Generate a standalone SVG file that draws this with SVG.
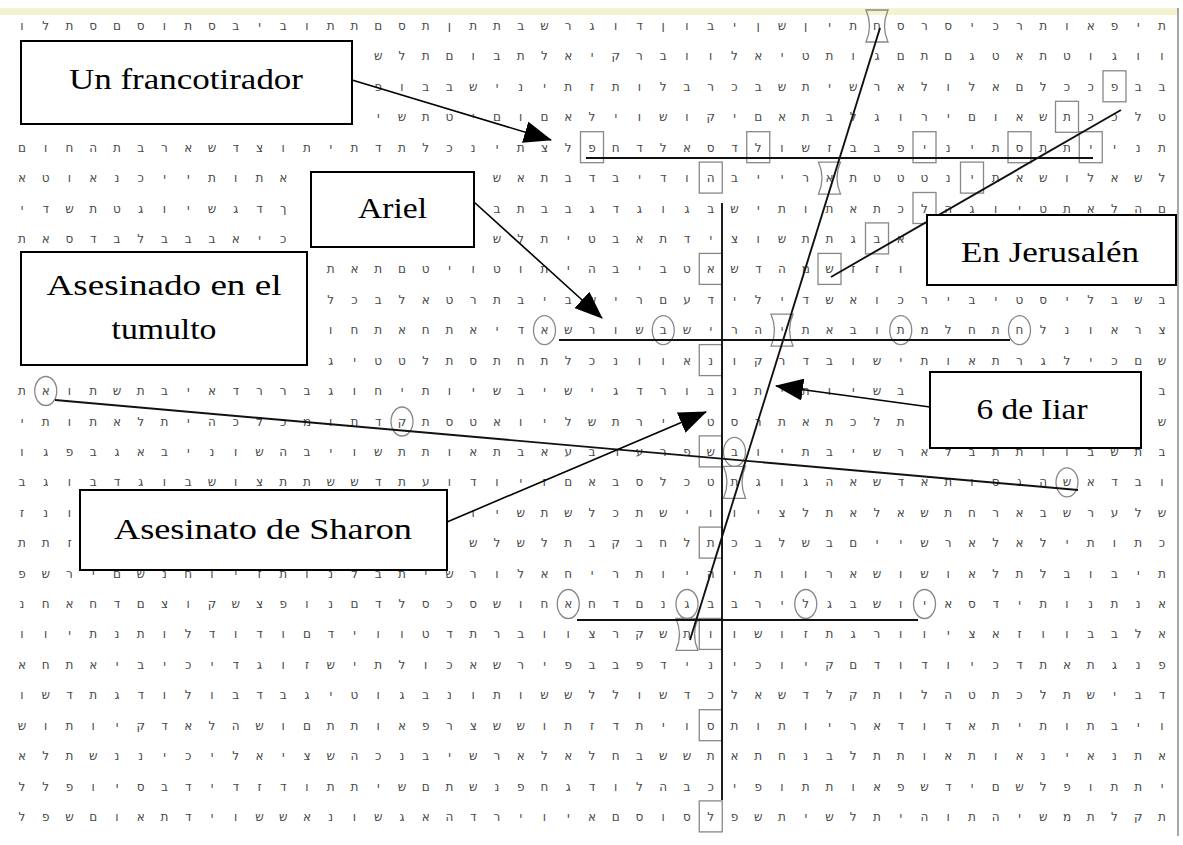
<svg xmlns="http://www.w3.org/2000/svg" xmlns:xlink="http://www.w3.org/1999/xlink" width="1183" height="845" viewBox="0 0 1183 845">
<style>
.m{font-family:"DejaVu Sans",sans-serif;font-size:12px;fill:#484848;text-anchor:middle;unicode-bidi:bidi-override;direction:ltr}
.lb{fill:#fff;stroke:#000;stroke-width:2}
.lt{font-family:"Liberation Serif",serif;font-size:30px;fill:#000;text-anchor:middle}
.sl{stroke:#111;stroke-width:1.9;fill:none}
.cn{stroke:#000;stroke-width:1.6;fill:none;marker-end:url(#ah)}
.mk{fill:none;stroke:#888;stroke-width:1.3}
</style>
<defs>
<marker id="ah" markerUnits="userSpaceOnUse" markerWidth="28" markerHeight="22" viewBox="0 0 28 22" refX="27" refY="11" orient="auto"><path d="M0,0 L28,11 L0,22 Z" fill="#000"/></marker>
<rect id="bx" x="-11.5" y="-16" width="23" height="31"/>
<ellipse id="cc" rx="11" ry="14.5"/>
<path id="hg" d="M-11,-16 H11 Q4,0 11,16 H-11 Q-4,0 -11,-16 Z"/>
</defs>
<rect width="1183" height="845" fill="#fff"/>
<rect x="0" y="8" width="1178" height="7" fill="#f5f2cf"/>
<line x1="1178" y1="8" x2="1178" y2="836" stroke="#8a8a8a" stroke-width="1.5"/>
<g id="matrix" class="m">
<text y="30" x="1162 1138.25 1114.5 1090.75 1067 1043.25 1019.5 995.75 972 948.25 924.5 900.75 877 853.25 829.5 805.75 782 758.25 734.5 710.75 687 663.25 639.5 615.75 592 568.25 544.5 520.75 497 473.25 449.5 425.75 402 378.25 354.5 330.75 307 283.25 259.5 235.75 212 188.25 164.5 140.75 117 93.25 69.5 45.75 22">תיפאותרכיסרסחתיןשןיבוןדוגרשבתתןתסםתתוביבסתוסםסתלו</text>
<text y="60.4" x="1162 1138.25 1114.5 1090.75 1067 1043.25 1019.5 995.75 972 948.25 924.5 900.75 877 853.25 829.5 805.75 782 758.25 734.5 710.75 687 663.25 639.5 615.75 592 568.25 544.5 520.75 497 473.25 449.5 425.75 402 378.25">ווגוטתאטגםתםגותטיאלווברקיאלתבוםתלש</text>
<text y="90.8" x="1162 1138.25 1114.5 1090.75 1067 1043.25 1019.5 995.75 972 948.25 924.5 900.75 877 853.25 829.5 805.75 782 758.25 734.5 710.75 687 663.25 639.5 615.75 592 568.25 544.5 520.75 497 473.25 449.5 425.75 402 378.25">בבפככלםאלולארשיתשבכרבלותזתינישבבופ</text>
<text y="121.3" x="1162 1138.25 1114.5 1090.75 1067 1043.25 1019.5 995.75 972 948.25 924.5 900.75 877 853.25 829.5 805.75 782 758.25 734.5 710.75 687 663.25 639.5 615.75 592 568.25 544.5 520.75 497 473.25 449.5 425.75 402 378.25">טלככתשאוםירוגלבתאםיקושוילאםוםיטתשי</text>
<text y="151.7" x="1162 1138.25 1114.5 1090.75 1067 1043.25 1019.5 995.75 972 948.25 924.5 900.75 877 853.25 829.5 805.75 782 758.25 734.5 710.75 687 663.25 639.5 615.75 592 568.25 544.5 520.75 497 473.25 449.5 425.75 402 378.25 354.5 330.75 307 283.25 259.5 235.75 212 188.25 164.5 140.75 117 93.25 69.5 45.75 22">תנייתתסתיניפבבזשולדסאלדחפלצתינכלתדתיתוצדשארבתהחום</text>
<text y="182.1" x="283.25 259.5 235.75 212 188.25 164.5 140.75 117 93.25 69.5 45.75 22">אתותייכנאוטא</text>
<text y="182.1" x="1162 1138.25 1114.5 1090.75 1067 1043.25 1019.5 995.75 972 948.25 924.5 900.75 877 853.25 829.5 805.75 782 758.25 734.5 710.75 687 663.25 639.5 615.75 592 568.25 544.5 520.75 497">לשאלושאתינטטטתארייבהודיבדבתאש</text>
<text y="212.5" x="283.25 259.5 235.75 212 188.25 164.5 140.75 117 93.25 69.5 45.75 22">ךדגשיוגטתשדי</text>
<text y="212.5" x="1162 1138.25 1114.5 1090.75 1067 1043.25 1019.5 995.75 972 948.25 924.5 900.75 877 853.25 829.5 805.75 782 758.25 734.5 710.75 687 663.25 639.5 615.75 592 568.25 544.5 520.75 497">םהלאתטיוגהלכתאתותישבגוגדגבבתב</text>
<text y="242.9" x="283.25 259.5 235.75 212 188.25 164.5 140.75 117 93.25 69.5 45.75 22">כיאבבבלבדסאת</text>
<text y="242.9" x="900.75 877 853.25 829.5 805.75 782 758.25 734.5 710.75 687 663.25 639.5 615.75 592 568.25 544.5 520.75 497">אבגתתשוצידתאבטיתלש</text>
<text y="273.4" x="900.75 877 853.25 829.5 805.75 782 758.25 734.5 710.75 687 663.25 639.5 615.75 592 568.25 544.5 520.75 497 473.25 449.5 425.75 402 378.25 354.5 330.75">וזזשמהדשאטביבהיתוטויטםתאת</text>
<text y="303.8" x="1162 1138.25 1114.5 1090.75 1067 1043.25 1019.5 995.75 972 948.25 924.5 900.75 877 853.25 829.5 805.75 782 758.25 734.5 710.75 687 663.25 639.5 615.75 592 568.25 544.5 520.75 497 473.25 449.5 425.75 402 378.25 354.5 330.75">בשבליסטיבירכואשדילידעםרישביבתרטאלבכל</text>
<text y="334.2" x="1162 1138.25 1114.5 1090.75 1067 1043.25 1019.5 995.75 972 948.25 924.5 900.75 877 853.25 829.5 805.75 782 758.25 734.5 710.75 687 663.25 639.5 615.75 592 568.25 544.5 520.75 497 473.25 449.5 425.75 402 378.25 354.5 330.75">צראונלחתחלמתובאתיהרישבשורשאדיאתחאתחו</text>
<text y="364.6" x="1162 1138.25 1114.5 1090.75 1067 1043.25 1019.5 995.75 972 948.25 924.5 900.75 877 853.25 829.5 805.75 782 758.25 734.5 710.75 687 663.25 639.5 615.75 592 568.25 544.5 520.75 497 473.25 449.5 425.75 402 378.25 354.5 330.75">שםכילגרתאותישובדרקונאוונכלתחתסתלטטיג</text>
<text y="395" x="900.75 877 853.25 829.5 805.75 782 758.25 734.5 710.75 687 663.25 639.5 615.75 592 568.25 544.5 520.75 497 473.25 449.5 425.75 402 378.25 354.5 330.75 307 283.25 259.5 235.75 212 188.25 164.5 140.75 117 93.25 69.5 45.75 22">בשיותיתנבורדגישיבשיותיחוגבררדאיבתשתואת</text>
<text y="395" x="1162">ב</text>
<text y="425.5" x="900.75 877 853.25 829.5 805.75 782 758.25 734.5 710.75 687 663.25 639.5 615.75 592 568.25 544.5 520.75 497 473.25 449.5 425.75 402 378.25 354.5 330.75 307 283.25 259.5 235.75 212 188.25 164.5 140.75 117 93.25 69.5 45.75 22">תלכתאתרסטלירתשליואטסתקדתומכלכהיתלאתותי</text>
<text y="425.5" x="1162">ש</text>
<text y="455.9" x="1162 1138.25 1114.5 1090.75 1067 1043.25 1019.5 995.75 972 948.25 924.5 900.75 877 853.25 829.5 805.75 782 758.25 734.5 710.75 687 663.25 639.5 615.75 592 568.25 544.5 520.75 497 473.25 449.5 425.75 402 378.25 354.5 330.75 307 283.25 259.5 235.75 212 188.25 164.5 140.75 117 93.25 69.5 45.75 22">בתשבוותתבלארשיבתיובשפרערבעאבתאותתשויבהשוניבאגבפגו</text>
<text y="486.3" x="1162 1138.25 1114.5 1090.75 1067 1043.25 1019.5 995.75 972 948.25 924.5 900.75 877 853.25 829.5 805.75 782 758.25 734.5 710.75 687 663.25 639.5 615.75 592 568.25 544.5 520.75 497 473.25 449.5 425.75 402 378.25 354.5 330.75 307 283.25 259.5 235.75 212 188.25 164.5 140.75 117 93.25 69.5 45.75 22">ובדאשהגסותאדשאהגוגתטכלסבאםזיודועתדששתתצושבוגדבוגב</text>
<text y="516.7" x="69.5 45.75 22">ונז</text>
<text y="516.7" x="1162 1138.25 1114.5 1090.75 1067 1043.25 1019.5 995.75 972 948.25 924.5 900.75 877 853.25 829.5 805.75 782 758.25 734.5 710.75 687 663.25 639.5 615.75 592 568.25 544.5 520.75 497 473.25">שלערשבארחתשאלאתלציווישתכלשתשיו</text>
<text y="547.1" x="69.5 45.75 22">זתת</text>
<text y="547.1" x="1162 1138.25 1114.5 1090.75 1067 1043.25 1019.5 995.75 972 948.25 924.5 900.75 877 853.25 829.5 805.75 782 758.25 734.5 710.75 687 663.25 639.5 615.75 592 568.25 544.5 520.75 497 473.25">כתותילאלארשייםבשלבכתלחבקבתלשלש</text>
<text y="577.6" x="1162 1138.25 1114.5 1090.75 1067 1043.25 1019.5 995.75 972 948.25 924.5 900.75 877 853.25 829.5 805.75 782 758.25 734.5 710.75 687 663.25 639.5 615.75 592 568.25 544.5 520.75 497 473.25 449.5 425.75 402 378.25 354.5 330.75 307 283.25 259.5 235.75 212 188.25 164.5 140.75 117 93.25 69.5 45.75 22">תיבובלתלאושושארוותיהיותריחאלורשיתבלנותזיוחנשםירשפ</text>
<text y="608" x="1162 1138.25 1114.5 1090.75 1067 1043.25 1019.5 995.75 972 948.25 924.5 900.75 877 853.25 829.5 805.75 782 758.25 734.5 710.75 687 663.25 639.5 615.75 592 568.25 544.5 520.75 497 473.25 449.5 425.75 402 378.25 354.5 330.75 307 283.25 259.5 235.75 212 188.25 164.5 140.75 117 93.25 69.5 45.75 22">אנתנותידסאיושבגלירבבגנםדחאחושסכסלדםנופצשקוצםדחאחנ</text>
<text y="638.4" x="1162 1138.25 1114.5 1090.75 1067 1043.25 1019.5 995.75 972 948.25 924.5 900.75 877 853.25 829.5 805.75 782 758.25 734.5 710.75 687 663.25 639.5 615.75 592 568.25 544.5 520.75 497 473.25 449.5 425.75 402 378.25 354.5 330.75 307 283.25 259.5 235.75 212 188.25 164.5 140.75 117 93.25 69.5 45.75 22">אלבבווזאציוורגתזושוותשקרצווברתדטווידםודודלותנתיוו</text>
<text y="668.8" x="1162 1138.25 1114.5 1090.75 1067 1043.25 1019.5 995.75 972 948.25 924.5 900.75 877 853.25 829.5 805.75 782 758.25 734.5 710.75 687 663.25 639.5 615.75 592 568.25 544.5 520.75 497 473.25 449.5 425.75 402 378.25 354.5 330.75 307 283.25 259.5 235.75 212 188.25 164.5 140.75 117 93.25 69.5 45.75 22">פנגתאתדכיודודםקיוכינידפבבפירשאכולתישזוגדיכיביאתחא</text>
<text y="699.2" x="1162 1138.25 1114.5 1090.75 1067 1043.25 1019.5 995.75 972 948.25 924.5 900.75 877 853.25 829.5 805.75 782 758.25 734.5 710.75 687 663.25 639.5 615.75 592 568.25 544.5 520.75 497 473.25 449.5 425.75 402 378.25 354.5 330.75 307 283.25 259.5 235.75 212 188.25 164.5 140.75 117 93.25 69.5 45.75 22">דבישתלכתטהלותקלדשאלכדשוללששותונבגוטיגבדבולודגתדשו</text>
<text y="729.7" x="1162 1138.25 1114.5 1090.75 1067 1043.25 1019.5 995.75 972 948.25 924.5 900.75 877 853.25 829.5 805.75 782 758.25 734.5 710.75 687 663.25 639.5 615.75 592 568.25 544.5 520.75 497 473.25 449.5 425.75 402 378.25 354.5 330.75 307 283.25 259.5 235.75 212 188.25 164.5 140.75 117 93.25 69.5 45.75 22">ויבתותיתאדודאריותותסויתדזתוששצרפאותתםושהלאדקיותוש</text>
<text y="760.1" x="1162 1138.25 1114.5 1090.75 1067 1043.25 1019.5 995.75 972 948.25 924.5 900.75 877 853.25 829.5 805.75 782 758.25 734.5 710.75 687 663.25 639.5 615.75 592 568.25 544.5 520.75 497 473.25 449.5 425.75 402 378.25 354.5 330.75 307 283.25 259.5 235.75 212 188.25 164.5 140.75 117 93.25 69.5 45.75 22">אתנאינאותאותתלבנחתאתששבחלאלארשיבנכהשציאליכיננשתלא</text>
<text y="790.5" x="1162 1138.25 1114.5 1090.75 1067 1043.25 1019.5 995.75 972 948.25 924.5 900.75 877 853.25 829.5 805.75 782 758.25 734.5 710.75 687 663.25 639.5 615.75 592 568.25 544.5 520.75 497 473.25 449.5 425.75 402 378.25 354.5 330.75 307 283.25 259.5 235.75 212 188.25 164.5 140.75 117 93.25 69.5 45.75 22">יתתופלשםידשפאותתופיכבהלודגחפנשתםשיתתודזדידבסיופלל</text>
<text y="820.9" x="1162 1138.25 1114.5 1090.75 1067 1043.25 1019.5 995.75 972 948.25 924.5 900.75 877 853.25 829.5 805.75 782 758.25 734.5 710.75 687 663.25 639.5 615.75 592 568.25 544.5 520.75 497 473.25 449.5 425.75 402 378.25 354.5 330.75 307 283.25 259.5 235.75 212 188.25 164.5 140.75 117 93.25 69.5 45.75 22">תקלתמשיהתוהיתלשיתשפלסוסםאיוירדהאגשונאששוידתאוםשפל</text>
</g>
<g id="marks" class="mk">
<use href="#bx" x="592" y="147.7"/><use href="#bx" x="758.25" y="147.7"/><use href="#bx" x="924.5" y="147.7"/><use href="#bx" x="1090.75" y="147.7"/>
<use href="#bx" x="1114.5" y="86.8"/><use href="#bx" x="1067" y="117.3"/><use href="#bx" x="1019.5" y="147.7"/><use href="#bx" x="972" y="178.1"/><use href="#bx" x="924.5" y="208.5"/><use href="#bx" x="877" y="238.9"/><use href="#bx" x="829.5" y="269.4"/>
<use href="#bx" x="710.75" y="178.1"/><use href="#bx" x="710.75" y="269.4"/><use href="#bx" x="710.75" y="360.6"/><use href="#bx" x="710.75" y="451.9"/><use href="#bx" x="710.75" y="543.1"/><use href="#bx" x="710.75" y="634.4"/><use href="#bx" x="710.75" y="725.7"/><use href="#bx" x="710.75" y="816.9"/>
<use href="#hg" x="877" y="26"/><use href="#hg" x="829.5" y="178.1"/><use href="#hg" x="782" y="330.2"/><use href="#hg" x="734.5" y="482.3"/><use href="#hg" x="687" y="634.4"/>
<use href="#cc" x="544.5" y="330.2"/><use href="#cc" x="663.25" y="330.2"/><use href="#cc" x="900.75" y="330.2"/><use href="#cc" x="1019.5" y="330.2"/>
<use href="#cc" x="45.75" y="391"/><use href="#cc" x="402" y="421.5"/><use href="#cc" x="734.5" y="451.9"/><use href="#cc" x="1067" y="482.3"/>
<use href="#cc" x="568.25" y="604"/><use href="#cc" x="687" y="604"/><use href="#cc" x="805.75" y="604"/><use href="#cc" x="924.5" y="604"/>
</g>
<g id="search-lines" class="sl">
<line x1="586" y1="158" x2="1093" y2="158"/>
<line x1="559" y1="340" x2="1010" y2="340"/>
<line x1="577" y1="620" x2="918" y2="620"/>
<line x1="722" y1="203" x2="722" y2="800"/>
<line x1="880" y1="28" x2="690" y2="640"/>
<line x1="1121" y1="110" x2="831" y2="277"/>
<line x1="55" y1="400" x2="1078" y2="490"/>
</g>
<g id="node-francotirador"><rect class="lb" x="21" y="41" width="331" height="83"/><text class="lt" x="186" y="89" textLength="234" lengthAdjust="spacingAndGlyphs">Un francotirador</text></g>
<g id="node-ariel"><rect class="lb" x="311" y="172" width="163" height="75"/><text class="lt" x="392.5" y="218" textLength="69" lengthAdjust="spacingAndGlyphs">Ariel</text></g>
<g id="node-asesinado"><rect class="lb" x="21" y="252" width="286" height="113"/><text class="lt" x="164" y="295" textLength="235" lengthAdjust="spacingAndGlyphs">Asesinado en el</text><text class="lt" x="164" y="339" textLength="105" lengthAdjust="spacingAndGlyphs">tumulto</text></g>
<g id="node-jerusalen"><rect class="lb" x="927" y="215" width="249" height="70"/><text class="lt" x="1050" y="262" textLength="178" lengthAdjust="spacingAndGlyphs">En Jerusalén</text></g>
<g id="node-iiar"><rect class="lb" x="930" y="372" width="211" height="76"/><text class="lt" x="1032" y="419" textLength="111" lengthAdjust="spacingAndGlyphs">6 de Iiar</text></g>
<g id="node-sharon"><rect class="lb" x="80" y="490" width="367" height="80"/><text class="lt" x="263" y="539" textLength="298" lengthAdjust="spacingAndGlyphs">Asesinato de Sharon</text></g>
<g id="connectors" class="cn">
<line x1="352" y1="80" x2="551" y2="140"/>
<line x1="474" y1="202" x2="602" y2="318"/>
<line x1="930" y1="407" x2="776" y2="386"/>
<line x1="447" y1="522" x2="706" y2="412"/>
</g>
</svg>
